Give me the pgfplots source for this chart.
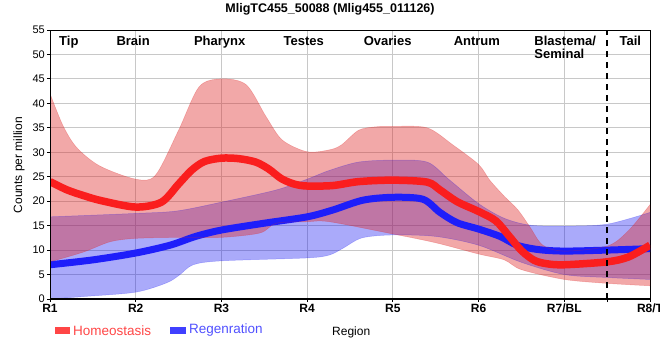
\documentclass[border=0pt]{standalone}
\usepackage{pgfplots}
\pgfplotsset{compat=1.18}
\usepgfplotslibrary{fillbetween}
\usepackage{fontspec}
\setmainfont{Liberation Sans}
\definecolor{bandred}{RGB}{222,38,38}
\definecolor{bandblue}{RGB}{12,12,241}
\definecolor{linered}{RGB}{250,30,30}
\definecolor{lineblue}{RGB}{30,30,250}
\definecolor{legred}{RGB}{255,70,70}
\definecolor{legblue}{RGB}{80,80,255}
\definecolor{gridgray}{RGB}{200,200,200}
\begin{document}
\begin{tikzpicture}
\begin{axis}[
  at={(50pt,61pt)}, anchor=south west,
  scale only axis, width=600pt, height=269pt,
  xmin=1, xmax=8, ymin=0, ymax=55,
  xtick={1,2,3,4,5,6,7,8},
  xticklabels={R1,R2,R3,R4,R5,R6,R7/BL,R8/T},
  extra x ticks={7.5}, extra x tick labels={},
  extra x tick style={grid=none},
  ytick={0,5,...,55},
  grid=major,
  grid style={gridgray, line width=0.9pt},
  axis line style={black, line width=0.9pt},
  tick style={black, line width=0.9pt},
  tick align=outside, major tick length=3pt,
  xtick pos=bottom, ytick pos=left,
  /pgf/number format/assume math mode=true,
  yticklabel style={font=\fontsize{11}{12}\selectfont, inner sep=2pt},
  xticklabel style={font=\bfseries\fontsize{12}{13}\selectfont, inner sep=2pt},
  clip=true,
]
% Regeneration band
\addplot[name path=BU, draw=bandblue, draw opacity=0.25, line width=0.5pt, smooth] coordinates {
(1,16.8) (2,17.5) (2.48,18) (3,19.8) (3.64,22.3) (4,24.5) (4.26,26.3) (4.6,28) (5,28.4) (5.4,28) (5.65,24.5) (6,19.5) (6.3,16.5) (6.6,15.1) (7,14.9) (7.5,15.3) (8,17.7)};
\addplot[name path=BL, draw=bandblue, draw opacity=0.25, line width=0.5pt, smooth] coordinates {
(1,0) (1.39,0.5) (2,1.4) (2.36,3.3) (2.51,4.9) (2.67,7) (3,7.8) (4,8.4) (4.26,9) (4.42,10.4) (4.64,12.5) (5,13.1) (5.5,12.8) (6,11) (6.5,7.5) (7,5) (7.5,4.4) (8,4)};
\addplot[bandblue, fill opacity=0.35, draw=none] fill between[of=BU and BL];
% Regeneration line
\addplot[lineblue, line width=7pt, smooth] coordinates {
(1,7) (1.5,8) (2,9.4) (2.4,11) (2.7,12.8) (3,14.1) (3.5,15.5) (4,16.8) (4.3,18.2) (4.65,20.2) (5,20.8) (5.35,20.4) (5.55,17.7) (5.75,15.6) (6,14.3) (6.25,12.8) (6.45,11) (6.7,10.1) (7,9.8) (7.5,10) (8,10.3)};
% Homeostasis band
\addplot[name path=RU, draw=bandred, draw opacity=0.3, line width=0.5pt, smooth] coordinates {
(1,42) (1.15,35.5) (1.31,31) (1.58,27.2) (2,24.5) (2.23,25.3) (2.5,34.5) (2.74,43.4) (3,45) (3.29,43.8) (3.52,37.3) (3.71,32.5) (4,30.1) (4.26,30.5) (4.4,31.5) (4.6,34.5) (4.8,35.2) (5,35.3) (5.4,35) (5.7,31.5) (6,27.5) (6.13,24.3) (6.3,21) (6.46,18.2) (6.6,14.7) (6.75,11) (7,9.8) (7.5,10.8) (7.75,14) (8,19.3)};
\addplot[name path=RL, draw=bandred, draw opacity=0.3, line width=0.5pt, smooth] coordinates {
(1,7.6) (1.39,9.6) (1.7,11.7) (2,12.4) (2.5,12.6) (3,12.6) (3.45,13.5) (3.64,15.5) (4,15.8) (4.26,15.8) (5,13.3) (5.5,11.5) (6,9.2) (6.3,8) (6.5,6) (7,4) (7.5,3.2) (8,2.7)};
\addplot[bandred, fill opacity=0.4, draw=none] fill between[of=RU and RL];
% Homeostasis line
\addplot[linered, line width=7.5pt, smooth] coordinates {
(1,24) (1.2,22.3) (1.4,21.1) (1.6,20.1) (2,18.8) (2.3,19.8) (2.5,23.5) (2.65,26.3) (2.8,28.1) (3,28.8) (3.2,28.7) (3.4,28) (3.55,26.6) (3.7,24.6) (3.85,23.5) (4,23.1) (4.3,23.2) (4.6,24.0) (5,24.3) (5.4,23.9) (5.55,22.3) (5.75,19.9) (6,17.9) (6.2,16) (6.35,13) (6.5,9.9) (6.65,7.9) (6.8,7.2) (7,7) (7.5,7.6) (7.75,8.6) (8,11)};
% separator
\draw[black, line width=2.3pt, dash pattern=on 6pt off 5pt] (axis cs:7.5,0) -- (axis cs:7.5,55);
% thick left and bottom axis lines
\draw[black, line width=2.3pt] (rel axis cs:0,1) -- (rel axis cs:0,0) -- (rel axis cs:1,0);
% region labels
\begin{scope}[every node/.style={font=\bfseries\fontsize{13}{14}\selectfont, inner sep=0pt, anchor=base}]
\node at (axis cs:1.22,51.9) {Tip};
\node at (axis cs:1.97,51.9) {Brain};
\node at (axis cs:2.98,51.9) {Pharynx};
\node at (axis cs:3.96,51.9) {Testes};
\node at (axis cs:4.94,51.9) {Ovaries};
\node at (axis cs:5.98,51.9) {Antrum};
\node[anchor=base west] at (axis cs:6.65,51.9) {Blastema/};
\node[anchor=base west] at (axis cs:6.65,49.2) {Seminal};
\node at (axis cs:7.77,51.9) {Tail};
\end{scope}
\end{axis}
% title
\node[font=\bfseries\fontsize{12.5}{14}\selectfont, inner sep=0pt] at (330pt,351pt) {MligTC455\_50088 (Mlig455\_011126)};
% y label
\node[rotate=90, font=\fontsize{12}{13}\selectfont, inner sep=0pt] at (19pt,195pt) {Counts per million};
% legend
\fill[legred] (55pt,26pt) rectangle (70pt,33pt);
\node[anchor=west, text=legred, font=\fontsize{13.5}{14}\selectfont, inner sep=0pt] at (73pt,29.5pt) {Homeostasis};
\fill[legblue!80!blue] (170pt,26pt) rectangle (186pt,33pt);
\node[anchor=west, text=legblue, font=\fontsize{13.5}{14}\selectfont, inner sep=0pt] at (189pt,29.5pt) {Regenration};
\node[anchor=west, font=\fontsize{12}{13}\selectfont, inner sep=0pt] at (332pt,28pt) {Region};
\pgfresetboundingbox
\path (0,0) rectangle (660pt,360pt);
\end{tikzpicture}
\end{document}
